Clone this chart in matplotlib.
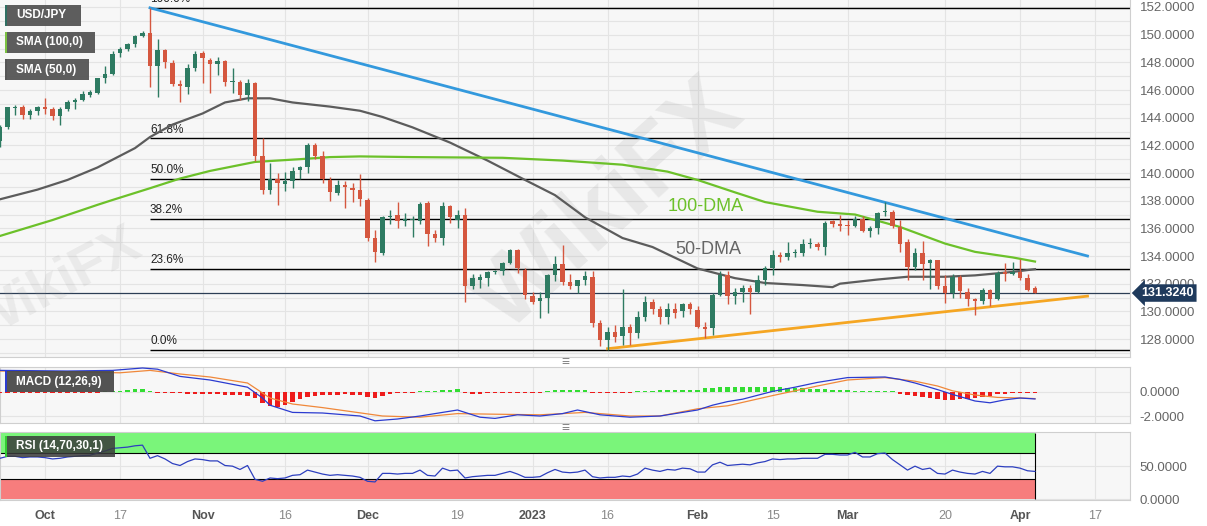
"""USD/JPY daily chart with SMAs, Fibonacci levels, trendlines, MACD and RSI panels."""

import numpy as np
import pandas as pd
import matplotlib
matplotlib.use("Agg")
import matplotlib.pyplot as plt
from matplotlib.patches import Rectangle
from matplotlib.ticker import FormatStrFormatter

W, H, DPI = 1207, 526, 100

# ---- data (daily candles, 2022-09-23 .. 2023-04-05) ----
start_date = "2022-09-23"
end_date = "2023-04-05"

opens = [142.3, 143.3, 144.7, 144.8, 144.2, 144.5,
         144.75, 144.65, 144.1, 144.6, 145.1, 145.3, 145.65, 145.8, 146.85, 147.15,
         148.7, 149.0, 149.3, 149.9, 150.1, 147.7, 148.9, 147.95, 146.4, 146.2,
         147.6, 148.7, 148.2, 147.9, 148.1, 146.6, 146.6, 145.65, 146.5, 141.2,
         138.8, 139.6, 139.2, 139.4, 140.2, 140.4, 142.0, 141.2, 139.5, 138.55,
         139.1, 138.95, 138.8, 138.05, 135.3, 134.2, 136.8, 137.0, 136.5, 136.6,
         136.5, 137.8, 135.6, 135.3, 137.6, 136.6, 137.0, 131.8, 132.3, 132.4,
         132.85, 132.9, 133.5, 134.4, 133.0, 131.1, 130.75, 131.0, 132.6, 133.4,
         132.1, 131.8, 132.3, 132.5, 129.15, 127.9, 128.5, 128.2, 128.9, 128.4,
         129.6, 130.7, 130.2, 129.6, 130.2, 130.0, 130.5, 130.1, 128.9, 128.8,
         131.2, 132.6, 131.1, 131.4, 131.7, 131.4, 132.3, 133.1, 134.1, 133.9,
         134.2, 134.2, 134.9, 134.9, 134.65, 136.5, 136.3, 136.2, 136.2, 136.7,
         135.8, 136.0, 137.2, 137.2, 136.1, 135.0, 133.2, 134.2, 133.5, 133.7,
         131.8, 131.3, 132.5, 131.4, 130.9, 130.75, 131.55, 130.9, 132.85, 132.7,
         132.85, 132.4, 131.7]
highs = [143.5, 144.8, 144.9, 144.9, 144.6, 144.85,
         145.4, 144.8, 144.75, 145.3, 145.4, 145.9, 146.0, 146.9, 147.7, 148.8,
         149.1, 149.4, 149.95, 150.3, 151.94, 149.7, 149.0, 148.2, 146.7, 147.9,
         148.8, 148.8, 148.3, 148.4, 148.2, 147.6, 146.7, 146.8, 146.6, 142.5,
         140.7, 140.0, 140.1, 140.4, 140.5, 142.2, 142.2, 141.6, 139.7, 139.5,
         139.4, 139.3, 139.9, 138.2, 135.9, 136.9, 137.3, 137.9, 137.1, 136.9,
         137.9, 138.0, 135.9, 137.9, 137.7, 137.3, 137.5, 132.7, 132.7, 132.9,
         133.0, 133.6, 134.5, 134.5, 133.1, 131.4, 131.4, 132.7, 134.0, 134.8,
         132.7, 132.3, 132.9, 132.9, 129.4, 128.9, 129.0, 131.6, 129.1, 130.0,
         131.1, 130.9, 130.4, 130.6, 130.6, 130.6, 130.7, 130.4, 129.2, 131.3,
         132.9, 132.9, 131.7, 131.9, 131.9, 132.6, 133.3, 134.4, 134.3, 135.0,
         134.5, 135.2, 135.3, 135.0, 136.5, 136.6, 137.0, 136.6, 136.9, 136.9,
         136.2, 137.2, 137.9, 137.3, 136.6, 135.2, 134.6, 135.1, 133.8, 133.7,
         132.6, 132.7, 132.6, 131.7, 131.0, 131.7, 131.6, 132.9, 133.5, 133.6,
         133.75, 132.7, 131.8]
lows = [141.9, 143.2, 144.2, 143.9, 143.9, 144.2,
        144.3, 143.8, 143.5, 144.5, 144.6, 145.2, 145.5, 145.7, 146.5, 147.1,
        148.4, 148.8, 149.1, 149.8, 146.2, 145.5, 147.6, 146.3, 145.1, 145.7,
        147.4, 146.5, 145.8, 147.1, 146.3, 145.8, 145.3, 145.2, 140.9, 138.5,
        138.5, 137.7, 138.7, 138.9, 139.6, 140.0, 141.0, 139.3, 138.0, 138.4,
        137.5, 137.9, 137.6, 135.1, 133.6, 134.1, 136.3, 136.0, 136.2, 135.4,
        136.3, 134.7, 135.0, 134.8, 136.4, 136.0, 130.7, 131.6, 131.7, 131.8,
        132.7, 132.6, 133.4, 132.8, 130.9, 130.5, 129.5, 129.9, 132.2, 131.9,
        131.6, 131.3, 131.9, 128.9, 127.5, 127.22, 127.8, 127.6, 127.6, 128.1,
        129.3, 129.8, 129.1, 129.1, 129.5, 129.6, 129.8, 128.8, 128.1, 128.3,
        131.1, 130.5, 130.5, 130.7, 129.8, 131.3, 131.9, 132.6, 133.6, 133.7,
        133.9, 134.0, 134.6, 134.4, 134.1, 136.1, 135.8, 135.5, 136.1, 135.7,
        135.4, 135.6, 136.9, 136.0, 134.3, 132.3, 133.0, 132.3, 131.6, 131.6,
        130.6, 131.0, 131.0, 130.4, 129.7, 130.5, 130.4, 130.8, 132.2, 132.6,
        132.3, 131.5, 131.3]
closes = [143.3, 144.75, 144.8, 144.2, 144.45, 144.75,
          144.65, 144.1, 144.6, 145.15, 145.3, 145.7, 145.85, 146.85, 147.15, 148.6,
          149.0, 149.3, 149.9, 150.15, 147.7, 148.9, 148.0, 146.4, 146.3, 147.6,
          148.6, 148.3, 147.9, 148.1, 146.6, 146.6, 145.65, 146.5, 141.2, 138.75,
          139.6, 139.25, 139.4, 140.15, 140.4, 142.0, 141.2, 139.6, 138.6, 139.1,
          139.0, 138.8, 138.1, 135.3, 134.3, 136.8, 136.9, 136.5, 136.7, 136.65,
          137.75, 135.6, 135.3, 137.6, 136.8, 136.95, 131.8, 132.4, 132.45, 132.85,
          132.9, 133.5, 134.4, 133.1, 131.2, 130.7, 131.0, 132.6, 133.4, 132.1,
          131.85, 132.3, 132.55, 129.15, 127.9, 128.5, 128.15, 128.9, 128.4, 129.6,
          130.7, 130.2, 129.6, 130.2, 129.9, 130.5, 130.2, 128.9, 128.75, 131.2,
          132.6, 131.1, 131.4, 131.7, 131.4, 132.3, 133.1, 134.1, 133.9, 134.2,
          134.2, 134.9, 134.9, 134.65, 136.4, 136.3, 136.2, 136.15, 136.7, 135.8,
          136.0, 137.1, 137.25, 136.2, 134.9, 133.2, 134.2, 133.4, 133.7, 131.8,
          131.3, 132.5, 131.5, 130.9, 130.75, 131.55, 130.9, 132.8, 132.7, 132.85,
          132.4, 131.55, 131.324]

# 50-day and 100-day SMA, read at sample dates
sma50_dates = ["2022-09-23", "2022-09-30", "2022-10-06", "2022-10-12", "2022-10-19",
               "2022-10-21", "2022-10-26", "2022-11-01", "2022-11-04", "2022-11-09",
               "2022-11-14", "2022-11-17", "2022-11-24", "2022-11-30", "2022-12-05",
               "2022-12-09", "2022-12-16", "2022-12-23", "2022-12-30", "2023-01-05",
               "2023-01-11", "2023-01-18", "2023-01-24", "2023-02-01", "2023-02-08",
               "2023-02-14", "2023-02-21", "2023-02-27", "2023-02-28", "2023-03-07",
               "2023-03-13", "2023-03-20", "2023-03-24", "2023-03-31", "2023-04-05"]
sma50_vals = [138.1, 138.8, 139.5, 140.4, 141.8, 142.6, 143.5, 144.3, 145.1, 145.4,
              145.4, 145.1, 144.8, 144.5, 144.05, 143.3, 142.2, 140.9, 139.5, 138.4,
              136.8, 135.3, 134.65, 133.1, 132.4, 132.05, 131.9, 131.75, 132.0, 132.3,
              132.5, 132.5, 132.6, 132.85, 133.05]
sma100_dates = ["2022-09-23", "2022-10-04", "2022-10-12", "2022-10-14", "2022-10-21",
                "2022-10-27", "2022-11-02", "2022-11-10", "2022-11-18", "2022-11-24",
                "2022-11-30", "2022-12-09", "2022-12-27", "2023-01-06", "2023-01-18",
                "2023-01-26", "2023-02-01", "2023-02-08", "2023-02-14", "2023-02-23",
                "2023-03-02", "2023-03-10", "2023-03-14", "2023-03-20", "2023-03-24",
                "2023-03-31", "2023-04-05"]
sma100_vals = [135.45, 136.6, 137.7, 138.05, 138.9, 139.6, 140.15, 140.8, 141.0, 141.15,
               141.2, 141.15, 141.1, 140.9, 140.6, 140.1, 139.5, 138.6, 137.9, 137.2,
               137.0, 136.1, 135.7, 134.9, 134.3, 133.9, 133.6]

# trendlines (date, price)
down_trend_dates = ["2022-10-21", "2023-04-14"]
down_trend_vals = [151.94, 134.0]
up_trend_dates = ["2023-01-16", "2023-04-14"]
up_trend_vals = [127.3, 131.1]

fib_high, fib_low = 151.94, 127.22
fib_start = "2022-10-21"
fib_ratios = [1.0, 0.618, 0.5, 0.382, 0.236, 0.0]
fib_labels = ["100.0%", "61.8%", "50.0%", "38.2%", "23.6%", "0.0%"]
last_price = 131.324

# MACD (12,26,9)
macd_dates = ["2022-09-23", "2022-10-06", "2022-10-14", "2022-10-20", "2022-10-24",
              "2022-10-27", "2022-11-02", "2022-11-09", "2022-11-11", "2022-11-14",
              "2022-11-17", "2022-11-23", "2022-11-30", "2022-12-02", "2022-12-07",
              "2022-12-12", "2022-12-19", "2022-12-22", "2022-12-26", "2022-12-29",
              "2023-01-03", "2023-01-06", "2023-01-10", "2023-01-13", "2023-01-19",
              "2023-01-25", "2023-02-01", "2023-02-03", "2023-02-07", "2023-02-09",
              "2023-02-15", "2023-02-20", "2023-02-23", "2023-03-01", "2023-03-08",
              "2023-03-10", "2023-03-14", "2023-03-17", "2023-03-21", "2023-03-24",
              "2023-03-28", "2023-03-30", "2023-04-03", "2023-04-05"]
macd_vals = [1.8, 1.75, 1.8, 2.0, 1.9, 1.3, 1.0, 0.4, -0.5, -1.1,
             -1.7, -1.75, -2.0, -2.4, -2.25, -2.0, -1.5, -2.1, -2.2, -1.9,
             -2.0, -1.8, -1.5, -1.9, -2.1, -2.0, -1.5, -1.1, -0.8, -0.6,
             0.05, 0.4, 0.8, 1.2, 1.25, 1.05, 0.75, 0.2, -0.2, -0.75,
             -0.9, -0.65, -0.5, -0.58]
signal_dates = ["2022-09-23", "2022-10-10", "2022-10-17", "2022-10-21", "2022-10-27",
                "2022-11-02", "2022-11-09", "2022-11-14", "2022-11-17", "2022-11-23",
                "2022-12-05", "2022-12-12", "2022-12-19", "2022-12-26", "2023-01-03",
                "2023-01-11", "2023-01-19", "2023-01-25", "2023-02-01", "2023-02-07",
                "2023-02-15", "2023-02-23", "2023-03-01", "2023-03-08", "2023-03-14",
                "2023-03-17", "2023-03-21", "2023-03-24", "2023-03-29", "2023-04-03",
                "2023-04-05"]
signal_vals = [1.75, 1.65, 1.6, 1.8, 1.5, 1.25, 0.75, -0.5, -1.0, -1.3,
               -2.0, -2.1, -1.8, -1.85, -1.9, -1.7, -2.0, -2.0, -1.4, -1.15,
               -0.3, 0.5, 1.0, 1.2, 0.9, 0.5, 0.1, -0.25, -0.45, -0.5,
               -0.55]
hist_vals = [-0.06, -0.06, -0.07, -0.08, -0.08, -0.08, -0.08, -0.08, -0.07, -0.06,
             -0.05, -0.04, -0.03, -0.02,
             0.03, 0.06, 0.12, 0.18, 0.22, 0.22, 0.12,
             -0.03, -0.06,
             -0.1, -0.12, -0.15, -0.15, -0.18, -0.2, -0.2, -0.22, -0.25, -0.28, -0.3,
             -0.5, -0.9, -1.2, -1.25, -1.1, -0.85, -0.6,
             -0.4, -0.3, -0.28, -0.25, -0.22, -0.2, -0.22, -0.25,
             -0.4, -0.5, -0.35, -0.2,
             -0.12, -0.08, -0.04,
             0.08, 0.1, 0.1, 0.18, 0.2, 0.25,
             -0.1, -0.15, -0.15, -0.12, -0.1, -0.08, -0.05,
             -0.04, -0.05, -0.05, -0.03,
             0.08, 0.15, 0.18, 0.2, 0.2, 0.15,
             -0.05, -0.1, -0.1, -0.1, -0.08, -0.05,
             0.08, 0.1, 0.12, 0.15, 0.18, 0.18, 0.15,
             0.15, 0.2, 0.3, 0.35, 0.4, 0.4, 0.4, 0.42, 0.45, 0.45, 0.42,
             0.4, 0.38, 0.35, 0.33, 0.3, 0.28, 0.25, 0.22, 0.2, 0.18, 0.15,
             0.12, 0.1, 0.08, 0.05, 0.03, 0.02,
             -0.15, -0.25, -0.35, -0.45, -0.5, -0.55,
             -0.65, -0.65, -0.6, -0.55, -0.5,
             -0.4, -0.3, -0.2, -0.15,
             -0.1, -0.08, -0.05, -0.05]

# RSI (14), one value per candle
rsi_vals = [62, 65, 65, 63, 64, 64,
            63, 61, 62, 64, 65, 66, 66.5, 70, 73, 77,
            78, 79, 81, 82, 62, 66, 61, 54, 51, 57,
            61, 60, 58, 58, 51, 50, 45, 51, 30, 27,
            32, 31, 32, 36, 37, 44, 41, 38, 36, 37,
            36, 35, 33, 27, 26, 39, 39, 38, 39, 39,
            44, 36, 35, 47, 43, 44, 32, 34, 35, 36,
            36, 39, 42, 38, 33, 33, 34, 40, 45, 41,
            40, 41, 44, 34, 32, 33, 33, 35, 34, 38,
            47, 44, 42, 45, 44, 47, 46, 41, 41, 52,
            56, 51, 52, 53, 52, 55, 57, 61, 60, 61,
            61, 62, 62, 62, 68, 68, 67, 67, 71, 64,
            64, 69, 70, 60, 52, 44, 50, 45, 47, 39,
            38, 44, 41, 39, 38, 42, 39, 50, 49, 49,
            47, 43, 42]

tick_dates = ["2022-10-03", "2022-10-17", "2022-11-01", "2022-11-16", "2022-12-01",
              "2022-12-19", "2023-01-02", "2023-01-16", "2023-02-01", "2023-02-15",
              "2023-03-01", "2023-03-20", "2023-04-03", "2023-04-17"]
tick_labels = ["Oct", "17", "Nov", "16", "Dec", "19", "2023", "16", "Feb", "15",
               "Mar", "20", "Apr", "17"]
major_labels = {"Oct", "Nov", "Dec", "2023", "Feb", "Mar", "Apr"}

# ---- helpers ----
sessions = pd.bdate_range(start_date, "2023-05-31")


def pos(d):
    """Session index of a date on the trading-day axis."""
    return sessions.get_loc(pd.Timestamp(d))


def pos_list(ds):
    return np.array([pos(d) for d in ds], dtype=float)


def fx(x):
    return x / W


def fy(y):
    return 1 - y / H


plt.rcParams['font.family'] = ['Liberation Sans', 'DejaVu Sans']

GREEN_C = '#2e7b62'
RED_C = '#d5573f'
GRID_C = '#e4e4e4'
BG_C = '#f7f7f7'
FRAME_C = '#cfcfcf'

x = np.arange(len(opens), dtype=float)
o = np.array(opens)
h = np.array(highs)
lo = np.array(lows)
c = np.array(closes)
up = c >= o

xmin, xmax = 0.0, 1130 / 7.5
ticks_x = pos_list(tick_dates)

fig = plt.figure(figsize=(W / DPI, H / DPI), dpi=DPI, facecolor='white')
ax_p = fig.add_axes([0, fy(357), fx(1130), 357 / H])
ax_m = fig.add_axes([0, fy(423), fx(1130), 56 / H])
ax_r = fig.add_axes([0, fy(500), fx(1130), 68 / H])

for ax in (ax_p, ax_m, ax_r):
    ax.set_facecolor(BG_C)
    ax.set_xlim(xmin, xmax)
    ax.set_xticks(ticks_x)
    ax.grid(True, axis='x', color=GRID_C, lw=0.8)
    ax.yaxis.tick_right()
    ax.tick_params(axis='both', length=0, labelsize=9.5, labelcolor='#666666', pad=7)
    ax.set_axisbelow(True)
    for s in ax.spines.values():
        s.set_color(FRAME_C)
        s.set_linewidth(0.8)

# ---- price panel ----
ax_p.set_ylim(126.70, 152.506)
ax_p.set_yticks(np.arange(128, 153, 2))
ax_p.set_yticks(np.arange(127, 153, 1), minor=True)
ax_p.tick_params(axis='y', which='minor', length=0)
ax_p.yaxis.set_major_formatter(FormatStrFormatter('%.4f'))
ax_p.grid(True, axis='y', which='both', color=GRID_C, lw=0.8)
ax_p.set_xticklabels([])
ax_p.spines['top'].set_visible(False)
ax_p.spines['left'].set_visible(False)

# watermarks
ax_p.text(0.54, 0.42, "WikiFX", transform=ax_p.transAxes, rotation=42, fontsize=70,
          fontweight='bold', color='#9a9a9a', alpha=0.16, ha='center', va='center')
ax_p.text(0.05, 0.20, "WikiFX", transform=ax_p.transAxes, rotation=28, fontsize=40,
          fontweight='bold', color='#9a9a9a', alpha=0.14, ha='center', va='center')

# fibonacci levels
fx0 = pos(fib_start)
for r, lab in zip(fib_ratios, fib_labels):
    lvl = fib_low + (fib_high - fib_low) * r
    ax_p.hlines(lvl, fx0, xmax, color='black', lw=1.0, zorder=2)
    ax_p.text(fx0, lvl + 0.2, lab, fontsize=8.5, color='#222222', ha='left', va='bottom',
              zorder=3)

# current price line
ax_p.axhline(last_price, color='#2c3e55', lw=0.9, zorder=2)

# moving averages
ax_p.plot(pos_list(sma50_dates), sma50_vals, color='#5c5c5c', lw=1.6, zorder=3)
ax_p.plot(pos_list(sma100_dates), sma100_vals, color='#6cc12a', lw=1.6, zorder=3)

# trendlines
ax_p.plot(pos_list(down_trend_dates), down_trend_vals, color='#3399dd', lw=2, zorder=4)
ax_p.plot(pos_list(up_trend_dates), up_trend_vals, color='#f5a623', lw=2, zorder=4)

# candles
cols = np.where(up, GREEN_C, RED_C)
ax_p.vlines(x, lo, h, colors=cols, lw=1.0, zorder=5)
body = np.maximum(np.abs(c - o), 0.06)
ax_p.bar(x, body, bottom=np.minimum(o, c), width=0.66, color=cols, zorder=6, lw=0)

ax_p.text(pos("2023-01-26"), 137.6, "100-DMA", fontsize=13, color='#6cc12a',
          ha='left', va='center')
ax_p.text(pos("2023-01-27"), 134.5, "50-DMA", fontsize=13, color='#666666',
          ha='left', va='center')

# last price tag
ax_p.text(1.01, last_price, f"{last_price:.4f}", transform=ax_p.get_yaxis_transform(),
          fontsize=9, fontweight='bold', color='white', ha='left', va='center',
          bbox=dict(boxstyle='larrow,pad=0.22', fc='#1f3a5c', ec='none'), zorder=10)

# ---- MACD panel ----
ax_m.set_ylim(-2.583, 2.083)
ax_m.set_yticks([0, -2])
ax_m.yaxis.set_major_formatter(FormatStrFormatter('%.4f'))
ax_m.grid(True, axis='y', color=GRID_C, lw=0.8)
ax_m.set_xticklabels([])
hv = np.array(hist_vals)
hbar = np.sign(hv) * np.maximum(np.abs(hv), 0.12)
ax_m.bar(x, hbar, width=0.62, color=np.where(hv >= 0, '#33dd33', '#ee1c1c'), lw=0, zorder=3)
ax_m.plot(pos_list(signal_dates), signal_vals, color='#f0883a', lw=0.9, zorder=4)
ax_m.plot(pos_list(macd_dates), macd_vals, color='#2b3bd0', lw=0.9, zorder=5)

# ---- RSI panel ----
ax_r.set_ylim(-1.5, 102)
ax_r.set_yticks([0, 50])
ax_r.yaxis.set_major_formatter(FormatStrFormatter('%.4f'))
ax_r.grid(True, axis='y', color=GRID_C, lw=0.8)
x_end = x[-1]
ax_r.fill_between([xmin, x_end], 70, 100, color='#7af57a', zorder=1, lw=0)
ax_r.fill_between([xmin, x_end], 0, 30, color='#f77d7d', zorder=1, lw=0)
ax_r.hlines([70, 30], xmin, x_end, color='black', lw=0.8, zorder=2)
ax_r.vlines(x_end, 0, 100, color='black', lw=0.8, zorder=2)
ax_r.plot(x, rsi_vals, color='#2d3fbf', lw=0.9, zorder=4)
ax_r.set_xticklabels(tick_labels)
for t in ax_r.get_xticklabels():
    if t.get_text() in major_labels:
        t.set_fontweight('bold')
        t.set_color('#555555')
    else:
        t.set_color('#888888')
ax_r.tick_params(axis='x', labelsize=9, pad=7)

# ---- legend boxes ----
def label_box(x0, y0, w, hgt, text, stripe, fc='#555555', alpha=0.95):
    fig.add_artist(Rectangle((fx(x0), fy(y0 + hgt)), w / W, hgt / H, transform=fig.transFigure,
                             fc=fc, ec='none', alpha=alpha, zorder=20))
    fig.add_artist(Rectangle((fx(x0), fy(y0 + hgt)), 2 / W, hgt / H, transform=fig.transFigure,
                             fc=stripe, ec='none', zorder=21))
    fig.text(fx(x0 + 11), fy(y0 + hgt / 2), text, fontsize=8.5, fontweight='bold',
             color='white', ha='left', va='center', zorder=22)


label_box(5, 5, 76, 21, "USD/JPY", '#2f6f62')
label_box(5, 32, 90, 21, "SMA (100,0)", '#7bc142')
label_box(5, 59, 84, 21, "SMA (50,0)", '#555555')
label_box(5, 371, 109, 21, "MACD (12,26,9)", '#2b3bd0', fc='#4a4a4a')
label_box(5, 436, 110, 21, "RSI (14,70,30,1)", '#33cc33', fc='#3a3a3a', alpha=0.85)

# panel separators
for yy in (362, 428):
    fig.text(fx(565), fy(yy), "\u2261", fontsize=10, color='#888888', ha='center', va='center')

fig.savefig("out.png", dpi=DPI, facecolor='white')
